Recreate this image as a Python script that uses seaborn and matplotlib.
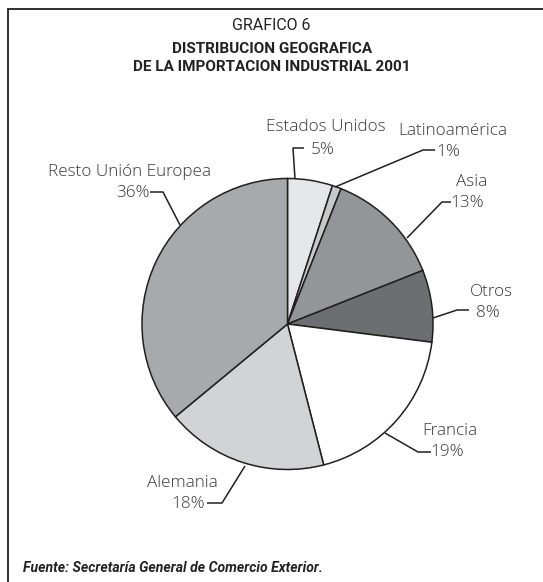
import matplotlib
matplotlib.use("Agg")
import matplotlib.pyplot as plt
import seaborn as sns

# ---- data ----
categories = ["Estados Unidos", "Latinoamérica", "Asia", "Otros",
              "Francia", "Alemania", "Resto Unión Europea"]
shares = [5, 1, 13, 8, 19, 18, 36]
pct_labels = ["5%", "1%", "13%", "8%", "19%", "18%", "36%"]
colors = ["#e6e7e8", "#c7c8ca", "#939598", "#6d6e71",
          "#ffffff", "#d1d3d4", "#a7a9ac"]

title_small = "GRAFICO 6"
title_bold = "DISTRIBUCION GEOGRAFICA\nDE LA IMPORTACION INDUSTRIAL 2001"
source = "Fuente: Secretaría General de Comercio Exterior."

sns.set_theme(style="white")
plt.rcParams['font.family'] = ['Open Sans', 'DejaVu Sans']

W, H = 543, 582
fig = plt.figure(figsize=(W / 100, H / 100), dpi=100)
ax = fig.add_axes([0, 0, 1, 1])

cx, cy, r = 287.5, 324, 145.5
wedges, _ = ax.pie(shares, colors=colors, center=(cx, cy), radius=r,
                   startangle=-90, counterclock=True,
                   wedgeprops=dict(edgecolor="#231f20", linewidth=1.1))
ax.set_xlim(0, W)
ax.set_ylim(H, 0)
ax.set_aspect("auto")
ax.axis("off")

# ---- layout: label name pos, pct pos (ha), leader path ----
txt = "#3a3a3a"
lab_fs = 12.3
layout = {
    "Estados Unidos": dict(name=(326, 127, "center"), pct=(311, 150, "left"),
                           path=[(295, 179), (293, 148), (304, 148)]),
    "Latinoamérica": dict(name=(453, 131, "center"), pct=(436, 152, "left"),
                          path=[(335, 187), (423, 150), (435, 150)]),
    "Asia": dict(name=(472, 182, "center"), pct=(450, 203, "left"),
                 path=[(407, 238), (442, 202), (451, 202)]),
    "Otros": dict(name=(491, 292, "center"), pct=(476, 313, "left"),
                  path=[(433, 318), (457, 310), (469, 310)]),
    "Francia": dict(name=(450, 431, "center"), pct=(430, 452, "left"),
                    path=[(385, 433), (418, 452), (431, 452)]),
    "Alemania": dict(name=(182, 483, "center"), pct=(205, 504, "right"),
                     path=[(245, 466), (222, 503), (207, 503)]),
    "Resto Unión Europea": dict(name=(130, 172, "center"), pct=(150, 193, "right"),
                                path=[(180, 225), (163, 192), (150, 192)]),
}
for cat, pct in zip(categories, pct_labels):
    L = layout[cat]
    xs, ys = zip(*L["path"])
    ax.plot(xs, ys, color="#231f20", lw=1.1, solid_capstyle="butt")
    nx, ny, nha = L["name"]
    ax.text(nx, ny, cat, ha=nha, va="center", fontsize=lab_fs, color=txt,
            fontweight="light")
    px, py, pha = L["pct"]
    ax.text(px, py, pct, ha=pha, va="center", fontsize=lab_fs, color=txt,
            fontweight="light")

# ---- frame (open at right/bottom as cropped) ----
ax.plot([7.5, 7.5, W], [H, 9, 9], color="#231f20", lw=1.3, solid_joinstyle="miter")

# ---- titles ----
cond = ['Roboto', 'DejaVu Sans']
ax.text(271, 26, title_small, ha="center", va="center", fontsize=11.5,
        color="#222222", family=cond)
ax.text(272, 58, title_bold, ha="center", va="center", fontsize=11,
        fontweight="bold", color="#222222", family=cond, linespacing=1.3)
ax.text(23, 568, source, ha="left", va="center", fontsize=10.1,
        fontstyle="italic", fontweight="bold", color="#222222", family=cond)

fig.savefig("out.png", dpi=100)
